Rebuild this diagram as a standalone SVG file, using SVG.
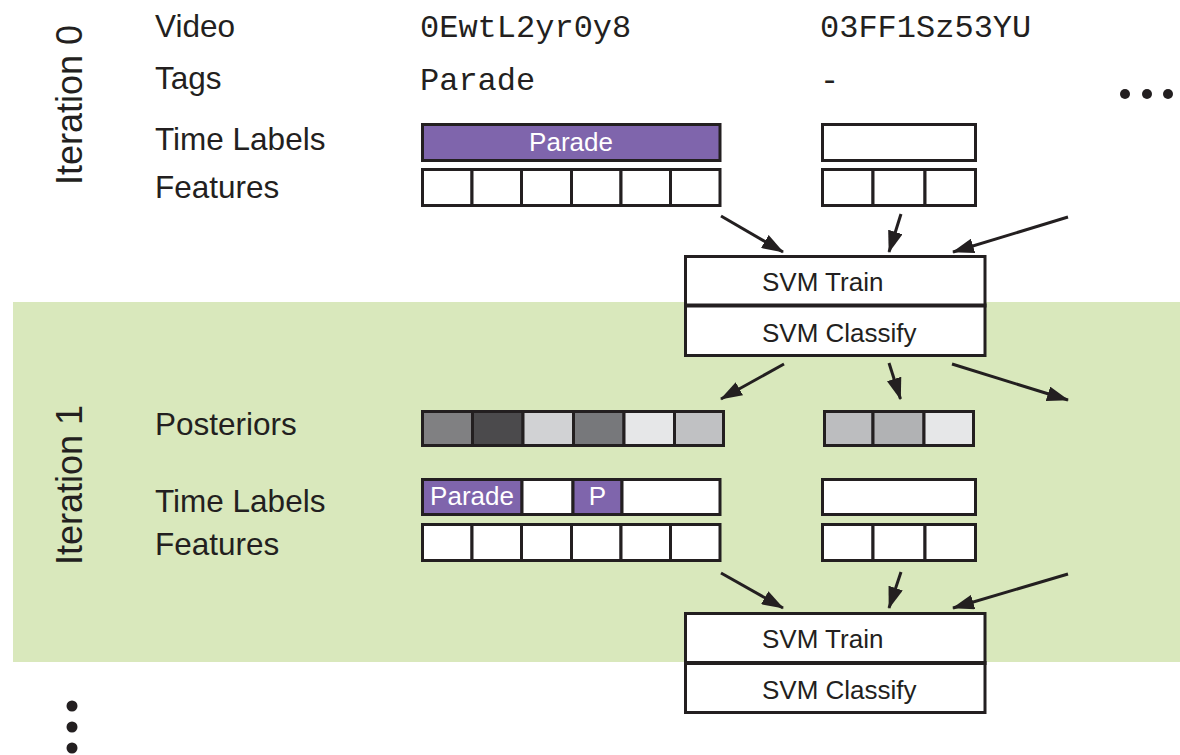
<svg xmlns="http://www.w3.org/2000/svg" width="1180" height="755" viewBox="0 0 1180 755">
<style>
.lbl{font-family:"Liberation Sans",Arial,sans-serif;font-size:31.5px;fill:#231f20}
.itr{font-family:"Liberation Sans",Arial,sans-serif;font-size:36px;fill:#231f20}
.mono{font-family:"Liberation Mono","Courier New",monospace;font-size:32px;fill:#231f20}
.box{font-family:"Liberation Sans",Arial,sans-serif;font-size:26px;fill:#231f20}
.wt{font-family:"Liberation Sans",Arial,sans-serif;font-size:26px;fill:#ffffff}
.cell{stroke:#231f20;stroke-width:3;fill:#ffffff}
.pur{fill:#7f65ac}
.con{stroke:#231f20;stroke-width:3;fill:none;marker-end:url(#ah)}
.dot{fill:#231f20}
</style>
<defs>
<marker id="ah" markerUnits="userSpaceOnUse" viewBox="0 0 22 15" markerWidth="22" markerHeight="15" refX="21" refY="7.5" orient="auto">
<path d="M0,0 L22,7.5 L0,15 z" fill="#231f20"/>
</marker>
</defs>
<rect x="13" y="302" width="1167" height="360" fill="#d9e8bc"/>

<g id="labels">
<text class="itr" transform="translate(82,105) rotate(-90)" text-anchor="middle">Iteration 0</text>
<text class="itr" transform="translate(82,485) rotate(-90)" text-anchor="middle">Iteration 1</text>
<text class="lbl" x="155" y="37">Video</text>
<text class="lbl" x="155" y="89">Tags</text>
<text class="lbl" x="155" y="150">Time Labels</text>
<text class="lbl" x="155" y="198">Features</text>
<text class="lbl" x="155" y="435">Posteriors</text>
<text class="lbl" x="155" y="512">Time Labels</text>
<text class="lbl" x="155" y="555">Features</text>
<text class="mono" x="420" y="37">0EwtL2yr0y8</text>
<text class="mono" x="420" y="90">Parade</text>
<text class="mono" x="820" y="37">03FF1Sz53YU</text>
<text class="mono" x="820" y="90">-</text>
</g>

<g id="dots">
<circle class="dot" cx="1125" cy="94" r="5"/>
<circle class="dot" cx="1147" cy="94" r="5"/>
<circle class="dot" cx="1168" cy="94" r="5"/>
<circle class="dot" cx="72" cy="706" r="5.5"/>
<circle class="dot" cx="72" cy="727" r="5.5"/>
<circle class="dot" cx="72" cy="748" r="5.5"/>
</g>

<g id="v1-iter0">
<rect class="cell pur" x="422.5" y="124.5" width="297.5" height="36"/>
<text class="wt" x="571" y="151" text-anchor="middle">Parade</text>
<rect class="cell" x="422.5" y="169.5" width="49.5" height="36"/>
<rect class="cell" x="472" y="169.5" width="49.5" height="36"/>
<rect class="cell" x="521.5" y="169.5" width="50" height="36"/>
<rect class="cell" x="571.5" y="169.5" width="49.5" height="36"/>
<rect class="cell" x="621" y="169.5" width="49.5" height="36"/>
<rect class="cell" x="670.5" y="169.5" width="49.5" height="36"/>
</g>

<g id="v2-iter0">
<rect class="cell" x="822.5" y="124.5" width="153" height="36"/>
<rect class="cell" x="822.5" y="169.5" width="50.5" height="36"/>
<rect class="cell" x="873" y="169.5" width="52" height="36"/>
<rect class="cell" x="925" y="169.5" width="50.5" height="36"/>
</g>

<g id="svm0">
<rect class="cell" x="685.5" y="256.5" width="299.5" height="99"/>
<line x1="684" y1="305.5" x2="986.5" y2="305.5" stroke="#231f20" stroke-width="4"/>
<text class="box" x="762" y="291">SVM Train</text>
<text class="box" x="762" y="342">SVM Classify</text>
</g>

<g id="v1-iter1">
<rect class="cell" x="422.5" y="411.5" width="50" height="34" style="fill:#808082"/>
<rect class="cell" x="472.5" y="411.5" width="50.5" height="34" style="fill:#4b4a4c"/>
<rect class="cell" x="523" y="411.5" width="50.5" height="34" style="fill:#d1d2d4"/>
<rect class="cell" x="573.5" y="411.5" width="50.5" height="34" style="fill:#77787b"/>
<rect class="cell" x="624" y="411.5" width="50.5" height="34" style="fill:#e6e7e8"/>
<rect class="cell" x="674.5" y="411.5" width="49" height="34" style="fill:#c0c1c3"/>
<rect class="cell pur" x="422.5" y="479.5" width="99.5" height="35"/>
<rect class="cell" x="522" y="479.5" width="51" height="35"/>
<rect class="cell pur" x="573" y="479.5" width="49" height="35"/>
<rect class="cell" x="622" y="479.5" width="98" height="35"/>
<text class="wt" x="472" y="505" text-anchor="middle">Parade</text>
<text class="wt" x="597.5" y="505" text-anchor="middle">P</text>
<rect class="cell" x="422.5" y="524.5" width="49.5" height="36"/>
<rect class="cell" x="472" y="524.5" width="49.5" height="36"/>
<rect class="cell" x="521.5" y="524.5" width="50" height="36"/>
<rect class="cell" x="571.5" y="524.5" width="49.5" height="36"/>
<rect class="cell" x="621" y="524.5" width="49.5" height="36"/>
<rect class="cell" x="670.5" y="524.5" width="49.5" height="36"/>
</g>

<g id="v2-iter1">
<rect class="cell" x="824.5" y="411.5" width="48.5" height="34" style="fill:#bcbdbf"/>
<rect class="cell" x="873" y="411.5" width="51" height="34" style="fill:#b1b2b4"/>
<rect class="cell" x="924" y="411.5" width="49.5" height="34" style="fill:#e6e7e8"/>
<rect class="cell" x="822.5" y="479.5" width="153" height="35"/>
<rect class="cell" x="822.5" y="524.5" width="50.5" height="36"/>
<rect class="cell" x="873" y="524.5" width="52" height="36"/>
<rect class="cell" x="925" y="524.5" width="50.5" height="36"/>
</g>

<g id="svm1">
<rect class="cell" x="685.5" y="613.5" width="299.5" height="99"/>
<line x1="684" y1="663" x2="986.5" y2="663" stroke="#231f20" stroke-width="4"/>
<text class="box" x="762" y="648">SVM Train</text>
<text class="box" x="762" y="699">SVM Classify</text>
</g>

<g id="connectors">
<line class="con" x1="721" y1="216" x2="783" y2="252"/>
<line class="con" x1="901" y1="214" x2="889" y2="252"/>
<line class="con" x1="1068" y1="217" x2="953" y2="252"/>
<line class="con" x1="784" y1="364" x2="721" y2="399"/>
<line class="con" x1="889" y1="363" x2="900.5" y2="399"/>
<line class="con" x1="952" y1="364" x2="1068" y2="400"/>
<line class="con" x1="721" y1="573" x2="783" y2="608"/>
<line class="con" x1="901" y1="572" x2="889" y2="608"/>
<line class="con" x1="1068" y1="574" x2="953" y2="608"/>
</g>
</svg>
